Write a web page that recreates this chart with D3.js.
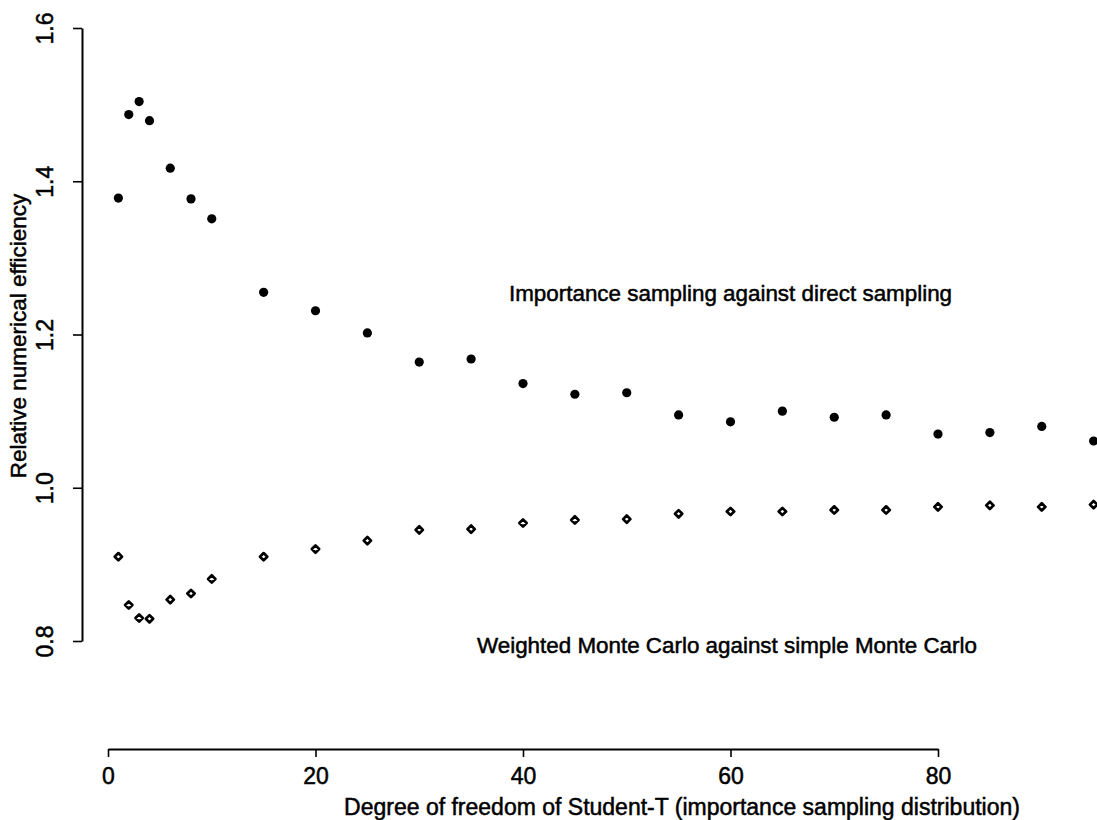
<!DOCTYPE html>
<html>
<head>
<meta charset="utf-8">
<script src="https://cdn.jsdelivr.net/npm/d3@7"></script>
<style>
  body { margin: 0; background: #fff; }
  svg text { font-family: "Liberation Sans", Arial, sans-serif; fill: #000; stroke: #000; stroke-width: 0.5px; }
</style>
</head>
<body>
<svg id="chart" width="1097" height="820"></svg>
<script>
// degrees of freedom of the Student-T
var dof = [1, 2, 3, 4, 6, 8, 10, 15, 20, 25, 30, 35, 40, 45, 50, 55, 60, 65, 70, 75, 80, 85, 90, 95];

// importance sampling against direct sampling (filled dots)
var importanceVsDirect = [1.378, 1.487, 1.504, 1.479, 1.417, 1.377, 1.351, 1.255, 1.231, 1.202, 1.164, 1.168,
    1.136, 1.122, 1.124, 1.095, 1.086, 1.100, 1.092, 1.095, 1.070, 1.072, 1.080, 1.061];

// weighted Monte Carlo against simple Monte Carlo (open diamonds)
var weightedVsSimple = [0.910, 0.847, 0.830, 0.829, 0.854, 0.862, 0.881, 0.910, 0.920, 0.931, 0.945, 0.946,
    0.954, 0.958, 0.959, 0.966, 0.969, 0.969, 0.971, 0.971, 0.975, 0.977, 0.975, 0.978];

var xTicks = [0, 20, 40, 60, 80];
var yTicks = [0.8, 1.0, 1.2, 1.4, 1.6];

var svg = d3.select("#chart");

var x = d3.scaleLinear().domain([0, 80]).range([108, 938]);
var y = d3.scaleLinear().domain([0.8, 1.6]).range([641, 28]);

// x axis (R style, detached)
var xAxis = svg.append("g")
    .attr("transform", "translate(0,749)")
    .call(d3.axisBottom(x).tickValues(xTicks).tickFormat(d3.format("d")).tickSize(8).tickSizeOuter(0));
xAxis.select(".domain").attr("stroke", "#000").attr("stroke-width", 2);
xAxis.selectAll(".tick line").attr("stroke", "#000").attr("stroke-width", 1.6);
xAxis.selectAll(".tick text")
    .attr("y", 35).attr("dy", null)
    .style("font-size", "23px");

// y axis
var yAxis = svg.append("g")
    .attr("transform", "translate(82,0)")
    .call(d3.axisLeft(y).tickValues(yTicks).tickFormat(d3.format(".1f")).tickSize(9).tickSizeOuter(0));
yAxis.select(".domain").attr("stroke", "#000").attr("stroke-width", 2);
yAxis.selectAll(".tick line").attr("stroke", "#000").attr("stroke-width", 1.6);
yAxis.selectAll(".tick text")
    .attr("x", null)
    .attr("text-anchor", "middle")
    .attr("transform", "translate(-37,0) rotate(-90)")
    .attr("dy", "0.35em")
    .style("font-size", "23px");

// axis titles
svg.append("text")
    .attr("x", 682).attr("y", 815)
    .attr("text-anchor", "middle")
    .style("font-size", "23px")
    .text("Degree of freedom of Student-T (importance sampling distribution)");

svg.append("text")
    .attr("transform", "translate(26,336) rotate(-90)")
    .attr("text-anchor", "middle")
    .style("font-size", "22.5px")
    .text("Relative numerical efficiency");

// points
var pts = d3.range(dof.length);

svg.append("g").selectAll("circle")
    .data(pts)
    .enter().append("circle")
    .attr("cx", function(i) { return x(dof[i]); })
    .attr("cy", function(i) { return y(importanceVsDirect[i]); })
    .attr("r", 4.6)
    .attr("fill", "#000");

var diamond = d3.symbol().type(d3.symbolDiamond2).size(34);
svg.append("g").selectAll("path")
    .data(pts)
    .enter().append("path")
    .attr("d", diamond)
    .attr("transform", function(i) {
        return "translate(" + x(dof[i]) + "," + y(weightedVsSimple[i]) + ")";
    })
    .attr("fill", "#fff")
    .attr("stroke", "#000")
    .attr("stroke-width", 2.7)
    .attr("stroke-linejoin", "round");

// annotations
svg.append("text")
    .attr("x", 509).attr("y", 301)
    .style("font-size", "22.4px")
    .text("Importance sampling against direct sampling");

svg.append("text")
    .attr("x", 477).attr("y", 653)
    .style("font-size", "22.4px")
    .text("Weighted Monte Carlo against simple Monte Carlo");
</script>
</body>
</html>
